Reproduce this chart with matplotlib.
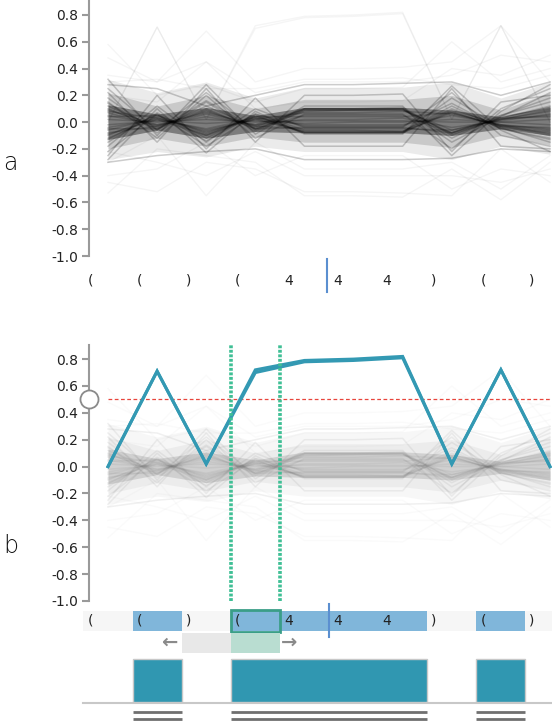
import matplotlib.pyplot as plt
from matplotlib.patches import Rectangle
import numpy as np

plt.rcParams["axes.unicode_minus"] = False
plt.rcParams["font.family"] = ["DejaVu Sans"]

# ---- data -------------------------------------------------------------
positions = np.arange(10)
cell_labels = ["(", "(", ")", "(", "4", "4", "4", ")", "(", ")"]
y_ticks = [0.8, 0.6, 0.4, 0.2, 0.0, -0.2, -0.4, -0.6, -0.8, -1.0]

# density envelopes of the background bundle, read per position
outer_hi = [0.32, 0.22, 0.30, 0.18, 0.26, 0.26, 0.26, 0.30, 0.18, 0.30]
outer_lo = [-0.28, -0.22, -0.26, -0.18, -0.22, -0.22, -0.22, -0.28, -0.18, -0.24]
mid_hi = [0.22, 0.12, 0.20, 0.10, 0.17, 0.17, 0.17, 0.20, 0.09, 0.22]
mid_lo = [-0.20, -0.12, -0.18, -0.11, -0.15, -0.15, -0.15, -0.19, -0.10, -0.17]
inner_hi = [0.13, 0.06, 0.11, 0.05, 0.11, 0.11, 0.11, 0.09, 0.04, 0.12]
inner_lo = [-0.13, -0.06, -0.12, -0.07, -0.08, -0.08, -0.08, -0.10, -0.05, -0.10]

# individual background profiles
core_lines = [
    [0.12, -0.04, 0.10, -0.05, 0.08, 0.09, 0.09, -0.08, 0.03, 0.12],
    [-0.10, 0.05, -0.08, 0.04, -0.07, -0.07, -0.07, 0.10, -0.03, -0.10],
    [0.25, -0.06, 0.22, -0.06, 0.10, 0.10, 0.10, -0.15, 0.04, 0.22],
    [-0.22, 0.06, -0.18, 0.05, -0.08, -0.08, -0.08, 0.18, -0.04, -0.15],
    [0.05, -0.02, 0.04, -0.02, 0.02, 0.02, 0.03, -0.04, 0.01, 0.06],
    [-0.04, 0.02, -0.05, 0.03, -0.02, -0.02, -0.02, 0.05, -0.02, -0.05],
    [0.18, -0.08, 0.15, -0.07, 0.09, 0.09, 0.10, -0.12, 0.05, 0.18],
    [-0.15, 0.07, -0.12, 0.06, -0.06, -0.06, -0.07, 0.12, -0.05, -0.12],
    [0.32, -0.10, 0.28, -0.09, 0.12, 0.12, 0.12, -0.25, 0.08, 0.28],
    [-0.28, 0.10, -0.23, 0.08, -0.09, -0.09, -0.09, 0.27, -0.06, -0.22],
    [0.08, 0.03, -0.06, 0.02, 0.07, 0.07, 0.08, 0.06, -0.02, -0.06],
    [-0.08, -0.03, 0.08, -0.03, -0.05, -0.05, -0.05, -0.06, 0.02, 0.08],
    [0.15, -0.12, 0.20, -0.12, 0.06, 0.06, 0.06, -0.20, 0.10, 0.25],
    [-0.18, 0.12, -0.15, 0.10, -0.04, -0.04, -0.04, 0.22, -0.10, -0.18],
    [0.10, -0.05, 0.12, -0.04, 0.10, 0.10, 0.11, -0.10, 0.04, 0.10],
    [-0.12, 0.04, -0.10, 0.05, -0.08, -0.08, -0.08, 0.08, -0.04, -0.08],
    [0.22, -0.15, 0.25, -0.15, 0.20, 0.20, 0.21, -0.22, 0.15, 0.20],
    [-0.25, 0.20, -0.20, 0.18, -0.18, -0.18, -0.18, 0.25, -0.18, -0.20],
    [0.02, 0.00, 0.02, 0.00, 0.01, 0.01, 0.01, 0.00, 0.00, 0.02],
    [-0.02, 0.01, -0.01, 0.01, -0.01, 0.00, 0.00, 0.02, 0.00, -0.02],
    [0.28, 0.25, 0.12, 0.20, 0.28, 0.28, 0.29, 0.30, 0.20, 0.30],
    [-0.30, -0.25, -0.22, -0.20, -0.28, -0.28, -0.28, -0.27, -0.20, -0.22],
    [0.07, -0.03, 0.06, -0.03, 0.09, 0.09, 0.09, -0.06, 0.02, 0.05],
    [-0.06, 0.03, -0.07, 0.02, -0.07, -0.07, -0.07, 0.07, -0.03, -0.07],
    [0.14, -0.06, 0.16, -0.05, 0.05, 0.05, 0.05, -0.08, 0.05, 0.15],
    [-0.13, 0.06, -0.14, 0.06, -0.03, -0.03, -0.03, 0.14, -0.05, -0.13],
    [0.09, -0.02, 0.07, -0.02, 0.10, 0.10, 0.10, -0.09, 0.02, 0.09],
    [-0.09, 0.02, -0.10, 0.03, -0.08, -0.08, -0.08, 0.09, -0.02, -0.09],
    [0.04, 0.05, -0.09, 0.04, 0.04, 0.04, 0.04, 0.07, -0.03, -0.04],
    [-0.05, -0.05, 0.09, -0.05, -0.04, -0.04, -0.04, -0.08, 0.03, 0.04],
]

# sparse outlier profiles
faint_lines = [
    [0.58, 0.20, 0.28, 0.15, 0.25, 0.25, 0.26, 0.60, 0.30, 0.40],
    [0.48, 0.30, 0.45, 0.22, 0.30, 0.30, 0.30, 0.35, 0.50, 0.45],
    [-0.53, -0.20, -0.25, -0.30, -0.55, -0.55, -0.56, -0.35, -0.58, -0.30],
    [-0.45, -0.52, -0.30, -0.35, -0.52, -0.52, -0.53, -0.55, -0.20, -0.45],
    [-0.30, -0.10, -0.55, -0.15, -0.35, -0.35, -0.35, -0.30, -0.50, -0.25],
    [0.35, 0.30, 0.68, 0.30, 0.40, 0.40, 0.41, 0.45, 0.72, 0.30],
    [0.20, 0.15, 0.45, 0.10, 0.15, 0.15, 0.16, 0.40, 0.35, 0.50],
    [-0.40, -0.35, -0.15, -0.40, -0.25, -0.25, -0.25, -0.50, -0.35, -0.40],
    [0.30, 0.32, 0.25, 0.25, 0.32, 0.32, 0.33, 0.28, 0.25, 0.35],
    [-0.22, -0.30, -0.40, -0.22, -0.40, -0.40, -0.40, -0.40, -0.45, -0.35],
    [0.00, 0.71, 0.02, 0.72, 0.79, 0.80, 0.82, 0.02, 0.72, 0.00],
    [0.00, 0.71, 0.02, 0.70, 0.78, 0.79, 0.81, 0.02, 0.72, 0.00],
]

# selected profile (drawn doubled in panel b)
teal_upper = [0.00, 0.71, 0.02, 0.72, 0.79, 0.80, 0.82, 0.02, 0.72, 0.00]
teal_lower = [0.00, 0.71, 0.02, 0.70, 0.78, 0.79, 0.81, 0.02, 0.72, 0.00]

threshold = 0.5
cursor_pos = 4.45
highlighted = [0, 1, 0, 1, 1, 1, 1, 0, 1, 0]
selected_cell = 3
previous_cell = 2

# contiguous runs of highlighted cells
runs = []
for i, h in enumerate(highlighted):
    if h and (i == 0 or not highlighted[i - 1]):
        runs.append([i, i])
    elif h:
        runs[-1][1] = i

# ---- layout -----------------------------------------------------------
W, H = 552, 724
fig = plt.figure(figsize=(W / 100, H / 100), dpi=100)


def box(left, top, right, bottom):
    return [left / W, 1 - bottom / H, (right - left) / W, (bottom - top) / H]


XLIM = (-(108 - 89) / 49.1, 9 + (552 - 550) / 49.1)
TEAL = "#3399b3"
GREEN = "#3fbf95"


def style_axis(ax, ylim):
    ax.set_xlim(*XLIM)
    ax.set_ylim(*ylim)
    for s in ("top", "right", "bottom"):
        ax.spines[s].set_visible(False)
    ax.spines["left"].set_color("#9a9a9a")
    ax.spines["left"].set_linewidth(1.5)
    ax.set_xticks([])
    ax.set_yticks(y_ticks)
    ax.set_yticklabels([f"{v:.1f}" for v in y_ticks])
    ax.tick_params(axis="y", length=5, width=1.5, color="#9a9a9a",
                   labelsize=10, labelcolor="#222222", pad=3)
    ax.patch.set_alpha(0)


def draw_bundle(ax, color, alphas, a_core, a_faint, faint_color):
    bands = [(outer_lo, outer_hi), (mid_lo, mid_hi), (inner_lo, inner_hi)]
    for (lo, hi), a in zip(bands, alphas):
        ax.fill_between(positions, lo, hi, color=color, alpha=a, lw=0)
    for ln in faint_lines:
        ax.plot(positions, ln, color=faint_color, alpha=a_faint, lw=1)
    for ln in core_lines:
        ax.plot(positions, ln, color=color, alpha=a_core, lw=1.1)


ax_a = fig.add_axes(box(89, 0, 552, 256))
style_axis(ax_a, (-1.0, 0.912))
draw_bundle(ax_a, "black", (0.08, 0.14, 0.38), 0.2, 0.04, "black")

ax_b = fig.add_axes(box(89, 345, 552, 601))
style_axis(ax_b, (-1.0, 0.905))
draw_bundle(ax_b, "#707070", (0.05, 0.08, 0.22), 0.10, 0.045, "#999999")
ax_b.plot([0, 9.04], [threshold, threshold], color="#e8453c", lw=0.9,
          dashes=(3, 2))
ax_b.plot(positions, teal_upper, color=TEAL, lw=2.2, solid_joinstyle="miter")
ax_b.plot(positions, teal_lower, color=TEAL, lw=2.2, solid_joinstyle="miter")
for xv in (selected_cell - 0.5, selected_cell + 0.5):
    ax_b.axvline(xv, color=GREEN, lw=2.6, dashes=(0.8, 0.45))
ax_b.plot([0], [threshold], marker="o", ms=13, mfc="white", mec="#8a8a8a",
          mew=1.3, clip_on=False, transform=ax_b.get_yaxis_transform(),
          zorder=5)

# ---- label strips (y in pixel rows) ----------------------------------
strip_a = fig.add_axes(box(89, 256, 552, 345))
strip_a.set_xlim(*XLIM)
strip_a.set_ylim(345, 256)
strip_a.axis("off")
for i, lab in enumerate(cell_labels):
    strip_a.text(i - 0.5 + 0.08, 281, lab, ha="left", va="center",
                 fontsize=10, color="#222222", clip_on=False)
strip_a.plot([cursor_pos, cursor_pos], [259, 292], color="#5b8fd0", lw=1.5,
             clip_on=False)

strip_b = fig.add_axes(box(89, 601, 552, 724))
strip_b.set_xlim(*XLIM)
strip_b.set_ylim(724, 601)
strip_b.axis("off")
strip_b.bar(-0.5, 20, width=len(cell_labels), bottom=611, align="edge",
            color="#f6f6f6", clip_on=False)
for s, e in runs:
    strip_b.bar(s - 0.5, 20, width=e - s + 1, bottom=611, align="edge",
                color="#80b6da", clip_on=False)
strip_b.add_patch(Rectangle((selected_cell - 0.5, 610), 1, 22, fill=False,
                            edgecolor="#3a9e88", lw=2, clip_on=False))
for i, lab in enumerate(cell_labels):
    strip_b.text(i - 0.5 + 0.08, 621, lab, ha="left", va="center",
                 fontsize=10, color="#222222", clip_on=False)
strip_b.plot([cursor_pos + 0.04, cursor_pos + 0.04], [604, 637],
             color="#5b8fd0", lw=1.5, clip_on=False)

# navigation row
strip_b.bar(previous_cell - 0.5, 20, width=1, bottom=633, align="edge",
            color="#e8e8e8")
strip_b.bar(selected_cell - 0.5, 20, width=1, bottom=633, align="edge",
            color="#b9ddd1")
strip_b.text(previous_cell - 0.5 - 0.26, 642, "\u2190", ha="center",
             va="center", fontsize=14, fontweight="bold", color="#8a8a8a")
strip_b.text(selected_cell + 0.5 + 0.18, 642, "\u2192", ha="center",
             va="center", fontsize=14, fontweight="bold", color="#8a8a8a")

# occupancy track
for s, e in runs:
    strip_b.bar(s - 0.5, 43, width=e - s + 1, bottom=659, align="edge",
                color="#3097b1", edgecolor="#c8c8c8", lw=1)
    for yy in (712, 719):
        strip_b.plot([s - 0.5, e + 0.5], [yy, yy], color="#707070", lw=2,
                     solid_capstyle="butt")
strip_b.plot([-0.5, 9.5], [702.5, 702.5], color="#c8c8c8", lw=1.5,
             clip_on=False, zorder=0)

# panel letters
fig.text(3 / W, 1 - 163 / H, "a", fontsize=17, fontweight="light",
         va="center", ha="left", color="#111111")
fig.text(3 / W, 1 - 546 / H, "b", fontsize=17, fontweight="light",
         va="center", ha="left", color="#111111")

fig.savefig("out.png", dpi=100)
